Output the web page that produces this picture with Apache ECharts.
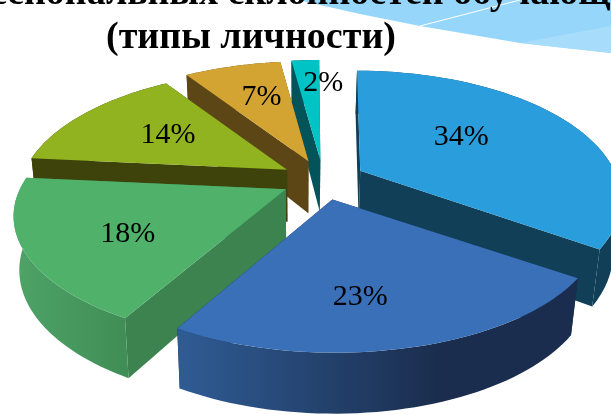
<!DOCTYPE html>
<html lang="ru">

<head>
  <meta charset="UTF-8">
  <title>Типы личности</title>
  <style media="screen">
    html, body { margin: 0; padding: 0; background: #fff; }
  </style>
</head>

<body>
  <div id="main" style="width:611px;height:415px;"></div>
</body>
<script src="https://cdn.jsdelivr.net/npm/echarts@6/dist/echarts.min.js"></script>

<script>
  var titleTop = 'профессиональных склонностей обучающихся';
  var titleBottom = '(типы личности)';
  var values = [34, 23, 18, 14, 7, 2];
  var labels = ['34%', '23%', '18%', '14%', '7%', '2%'];

  var topColors = ['#2a9edd', '#3a70b8', '#4fb16a', '#90b31f', '#d4a433', '#00c3c6'];
  var sideColors = ['#113f58', '#1a2d4e', '#3c8350', '#3e430b', '#5c4615', '#02545a'];
  var wallFrom = ['#113f58', '#2f5b93', '#4ea367', '#3e430b', '#5c4615', '#02545a'];
  var wallTo = ['#113f58', '#1a2d4e', '#3f8c55', '#3e430b', '#5c4615', '#02545a'];
  var wallX = [[360, 611], [183, 440], [15, 135], [0, 611], [0, 611], [0, 611]];
  // painted back to front
  var layer = [5, 6, 4, 3, 2, 1];
  // label centre relative to the slice apex
  var labelShift = [[101, -34], [28, 98], [-158, 45], [-119, -35], [-47, -64], [3, -77]];
  // the picture's slices are not quite equally wide
  var widthScale = [0.97, 1, 1.015, 1, 1, 1];

  // pie layout
  var CX = 323, CY = 180, EXPLODE_X = 42, EXPLODE_Y = 20;
  var RX = 262, RY = 121, PERSP = 0.21;
  var XV = 300, LEAN = 0.065, SHRINK = 0.025, SHRINK_LEFT = 0.02, DEPTH = 52, DEPTH_V = 9;

  var total = values.reduce(function (a, b) { return a + b; }, 0);
  var starts = [];
  values.reduce(function (sum, v, i) {
    starts[i] = sum / total * Math.PI * 2;
    return sum + v;
  }, 0);

  // t runs clockwise from 12 o'clock, z is 0 on the top face and 1 on the bottom
  function project(ax, ay, t, z, scale) {
    var u = Math.sin(t), v = Math.cos(t), w = 1 + PERSP * v;
    var x = ax + (RX * scale * u - (ax - XV) * LEAN * v) / w;
    var y = ay - RY * v / w;
    var shrink = x < XV ? SHRINK_LEFT : SHRINK;
    return [XV + (x - XV) * (1 - shrink * z), y + z * (DEPTH - DEPTH_V * v)];
  }

  function arc(ax, ay, t0, t1, z, scale) {
    var pts = [], n = 48;
    for (var i = 0; i <= n; i++) {
      pts.push(project(ax, ay, t0 + (t1 - t0) * i / n, z, scale));
    }
    return pts;
  }

  function apexBottom(ax, ay) {
    return [XV + (ax - XV) * (1 - SHRINK), ay + DEPTH];
  }

  function renderSlice(params, api) {
    var i = params.dataIndex;
    var value = api.value(0);
    var t0 = starts[i], t1 = t0 + value / total * Math.PI * 2, mid = (t0 + t1) / 2;
    var ax = CX + EXPLODE_X * Math.sin(mid);
    var ay = CY - EXPLODE_Y * Math.cos(mid);
    var top = arc(ax, ay, t0, t1, 0, widthScale[i]);
    var bottom = arc(ax, ay, t0, t1, 1, widthScale[i]);
    var z = layer[i];

    var wallFill = new echarts.graphic.LinearGradient(wallX[i][0], 0, wallX[i][1], 0, [
      { offset: 0, color: wallFrom[i] },
      { offset: 1, color: wallTo[i] }
    ], true);

    function poly(points, fill, zz) {
      return { type: 'polygon', shape: { points: points }, style: { fill: fill }, z2: z * 10 + zz, silent: true };
    }

    return {
      type: 'group',
      children: [
        poly([[ax, ay], top[0], bottom[0], apexBottom(ax, ay)], sideColors[i], 0),
        poly([[ax, ay], top[top.length - 1], bottom[bottom.length - 1], apexBottom(ax, ay)], sideColors[i], 0),
        poly(top.concat(bottom.slice().reverse()), wallFill, 1),
        poly([[ax, ay]].concat(top), topColors[i], 2),
        {
          type: 'text',
          z2: 200,
          silent: true,
          style: {
            x: ax + labelShift[i][0],
            y: ay + labelShift[i][1],
            text: labels[i],
            fill: '#000',
            align: 'center',
            verticalAlign: 'middle',
            font: '30px "Liberation Serif"'
          }
        }
      ]
    };
  }

  var myChart = echarts.init(document.getElementById('main'), null, { renderer: 'canvas' });

  myChart.setOption({
    backgroundColor: '#ffffff',
    animation: false,
    graphic: [
      {
        type: 'polygon', z: -2, silent: true,
        shape: { points: [[298, 0], [360, 14], [420, 26], [520, 43], [611, 53], [611, 0]] },
        style: { fill: '#96d6fb' }
      },
      {
        type: 'polygon', z: -1, silent: true,
        shape: { points: [[520, 43], [611, 26], [611, 53]] },
        style: { fill: '#a8dcfb' }
      },
      {
        type: 'line', z: -1, silent: true,
        shape: { x1: 420, y1: 26, x2: 520, y2: 0 },
        style: { stroke: '#ffffff', lineWidth: 1 }
      },
      {
        type: 'text', z: 1, silent: true,
        style: {
          x: 286, y: -25, text: titleTop, align: 'center', fill: '#000',
          font: 'bold 38px "Liberation Serif"'
        }
      },
      {
        type: 'text', z: 1, silent: true,
        style: {
          x: 251, y: 19, text: titleBottom, align: 'center', fill: '#000',
          font: 'bold 38px "Liberation Serif"'
        }
      }
    ],
    series: [{
      type: 'custom',
      coordinateSystem: 'none',
      renderItem: renderSlice,
      clip: false,
      data: values.map(function (v) { return [v]; })
    }]
  });
</script>

</html>
